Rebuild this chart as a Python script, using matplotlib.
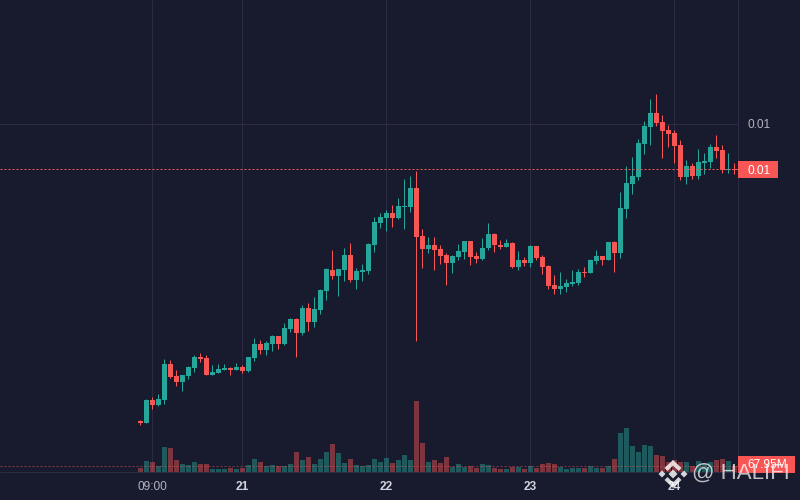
import numpy as np
import matplotlib
matplotlib.use('Agg')
import matplotlib.pyplot as plt
from matplotlib.patches import Polygon, Rectangle

# prices in units of 0.00001
opens = [703, 701, 724, 719, 724, 760, 748, 742, 748, 756, 767, 766, 749, 751, 754, 756, 754, 757, 753, 766,
         780, 774, 780, 788, 780, 795, 805, 791, 816, 802, 814, 833, 854, 848, 854, 869, 844, 852, 853, 879,
         901, 906, 911, 906, 917, 917, 936, 888, 875, 879, 875, 869, 861, 867, 872, 883, 868, 865, 876, 890,
         879, 877, 881, 857, 864, 861, 878, 867, 858, 839, 835, 837, 840, 841, 852, 851, 863, 868, 864, 882,
         871, 915, 940, 947, 980, 997, 1011, 1002, 994, 991, 979, 947, 958, 948, 961, 962, 977, 974, 954, 955]
highs = [704, 725, 727, 730, 765, 764, 754, 749, 758, 769, 771, 769, 759, 760, 760, 757, 761, 759, 767, 786,
         784, 783, 789, 788, 801, 806, 806, 819, 821, 827, 835, 856, 874, 855, 876, 881, 856, 860, 881, 907,
         911, 914, 919, 926, 945, 948, 953, 895, 887, 887, 879, 871, 869, 880, 883, 883, 872, 886, 901, 891,
         884, 885, 882, 873, 867, 879, 878, 869, 859, 849, 852, 845, 854, 855, 857, 865, 874, 868, 882, 883,
         932, 958, 967, 985, 1003, 1025, 1030, 1009, 999, 994, 984, 964, 961, 975, 971, 980, 989, 979, 971, 961]
lows = [699, 701, 715, 718, 720, 746, 738, 733, 745, 752, 762, 749, 749, 751, 754, 749, 754, 751, 752, 763,
        770, 769, 773, 775, 779, 792, 767, 789, 793, 797, 810, 824, 845, 828, 843, 842, 835, 843, 850, 872,
        896, 893, 897, 905, 895, 912, 783, 856, 871, 854, 860, 839, 851, 864, 865, 859, 861, 864, 874, 872,
        875, 877, 856, 854, 858, 857, 864, 850, 835, 830, 830, 832, 838, 839, 847, 851, 860, 859, 864, 852,
        866, 906, 930, 944, 970, 979, 998, 966, 977, 961, 944, 940, 945, 945, 950, 956, 966, 951, 951, 950]
closes = [701, 724, 719, 725, 760, 747, 742, 749, 757, 767, 765, 749, 752, 755, 756, 754, 757, 753, 767, 780,
          774, 781, 788, 780, 796, 805, 791, 816, 802, 815, 834, 855, 848, 855, 869, 844, 853, 854, 880, 902,
          907, 911, 906, 918, 918, 936, 887, 875, 879, 874, 868, 861, 868, 873, 883, 867, 865, 876, 890, 879,
          877, 881, 857, 864, 861, 878, 866, 857, 838, 835, 838, 841, 842, 852, 851, 864, 868, 864, 882, 871,
          916, 941, 948, 981, 998, 1011, 1001, 993, 990, 978, 947, 958, 948, 962, 963, 977, 973, 954, 955, 954]
# volume in millions
volumes = [48, 132, 120, 72, 300, 288, 144, 96, 84, 120, 96, 96, 36, 36, 36, 48, 36, 48, 84, 156,
           120, 72, 84, 72, 72, 96, 240, 144, 180, 96, 156, 240, 336, 228, 108, 156, 84, 72, 84, 156,
           120, 168, 108, 144, 204, 144, 852, 348, 120, 144, 108, 180, 60, 96, 60, 72, 48, 96, 84, 48,
           36, 36, 60, 60, 36, 72, 48, 96, 108, 96, 60, 36, 48, 48, 48, 72, 48, 48, 72, 156,
           468, 528, 312, 240, 324, 312, 204, 192, 120, 144, 120, 120, 72, 132, 96, 120, 144, 156, 132, 72]
time_ticks = [2, 17, 41, 65, 89]
time_labels = ['09:00', '21', '22', '23', '24']
grid_price = 1000
last_price = 955
last_volume = 68

BG = '#181a2e'
GRID = '#2b2b43'
UP = '#26a69a'
DOWN = '#f85555'
LW = 0.72  # one pixel

opens, highs, lows, closes = map(np.array, (opens, highs, lows, closes))
volumes = np.array(volumes)
idx = np.arange(len(opens))
colors = [UP if c >= o else DOWN for o, c in zip(opens, closes)]

fig = plt.figure(figsize=(8, 5), dpi=100, facecolor=BG)
ax = fig.add_axes([0, 0, 1, 1], facecolor=BG)
ax.set_xlim(-140.4 / 6, (800 - 140.4) / 6)
ax.set_ylim(624, 1124)
ax.axis('off')
x_left = ax.get_xlim()[0]

# grid
right_edge = 99.67
ax.hlines(grid_price, x_left, right_edge, color=GRID, lw=LW, zorder=1)
ax.vlines(time_ticks + [right_edge], 652, 1124, color=GRID, lw=LW, zorder=1)
ax.hlines(652, x_left, right_edge, color=GRID, lw=LW, zorder=1)

# volume bars, same pixels per unit as the price axes
vol_scale = 1 / 12
ax.bar(idx, volumes * vol_scale, bottom=652, width=5 / 6, color=colors, alpha=0.45, lw=0, zorder=2)
ax.hlines(652 + last_volume * vol_scale, x_left, right_edge, color=DOWN, alpha=0.5,
          lw=LW, linestyles=(0, (2, 2)), zorder=2)

# candles
ax.vlines(idx, lows, highs, colors=colors, lw=LW, zorder=3)
ax.bar(idx, np.abs(closes - opens), bottom=np.minimum(opens, closes), width=5 / 6,
       color=colors, lw=0, zorder=4)
ax.hlines(last_price, x_left, right_edge, color=DOWN, lw=LW,
          linestyles=(0, (2, 2)), zorder=5)

# price labels
right_label = right_edge + 21 / 6
ax.text(right_label, grid_price - 1.5, '0.01', color='#b2b5be', fontsize=8.6,
        family='Liberation Sans', ha='center', va='center')
ax.add_patch(Rectangle((right_edge, last_price - 9), 40 / 6, 17, color=DOWN, lw=0, zorder=6))
ax.text(right_label, last_price - 1.5, '0.01', color='white', fontsize=8.6,
        family='Liberation Sans', ha='center', va='center', zorder=7)
ax.add_patch(Rectangle((right_edge, 651), 57 / 6, 17, color=DOWN, lw=0, zorder=6))
ax.text(right_edge + 28.5 / 6, 658.5, '67.95M', color='white', fontsize=8.6,
        family='Liberation Sans', ha='center', va='center', zorder=7)

# time labels
for t, lab in zip(time_ticks, time_labels):
    ax.text(t, 637.5, lab, color='#b2b5be' if lab == '09:00' else '#d1d4dc', fontsize=8.6,
            family='Liberation Sans', ha='center', va='center',
            fontweight='normal' if lab == '09:00' else 'bold', zorder=3)

# watermark
wm = fig.add_axes([0, 0, 1, 1], facecolor='none')
wm.set_xlim(0, 800)
wm.set_ylim(500, 0)
wm.axis('off')
cx, cy = 673, 474
for dx, r in [(0, 4.5), (-11, 3.5), (11, 3.5)]:
    wm.add_patch(Polygon([(cx + dx - r, cy), (cx + dx, cy - r), (cx + dx + r, cy), (cx + dx, cy + r)],
                         color='white', alpha=0.82, lw=0, zorder=8))
for sgn in (-1, 1):
    wm.add_patch(Polygon([(cx, cy + sgn * 14), (cx + 8.5, cy + sgn * 6), (cx + 5.5, cy + sgn * 3), (cx, cy + sgn * 8.5),
                          (cx - 5.5, cy + sgn * 3), (cx - 8.5, cy + sgn * 6)], color='white', alpha=0.82, lw=0, zorder=8))
wm.text(692, 473, '@ HALIFI', color='white', alpha=0.72, fontsize=16, family='Liberation Sans',
        ha='left', va='center', zorder=8)

fig.savefig('out.png', dpi=100, facecolor=BG)
